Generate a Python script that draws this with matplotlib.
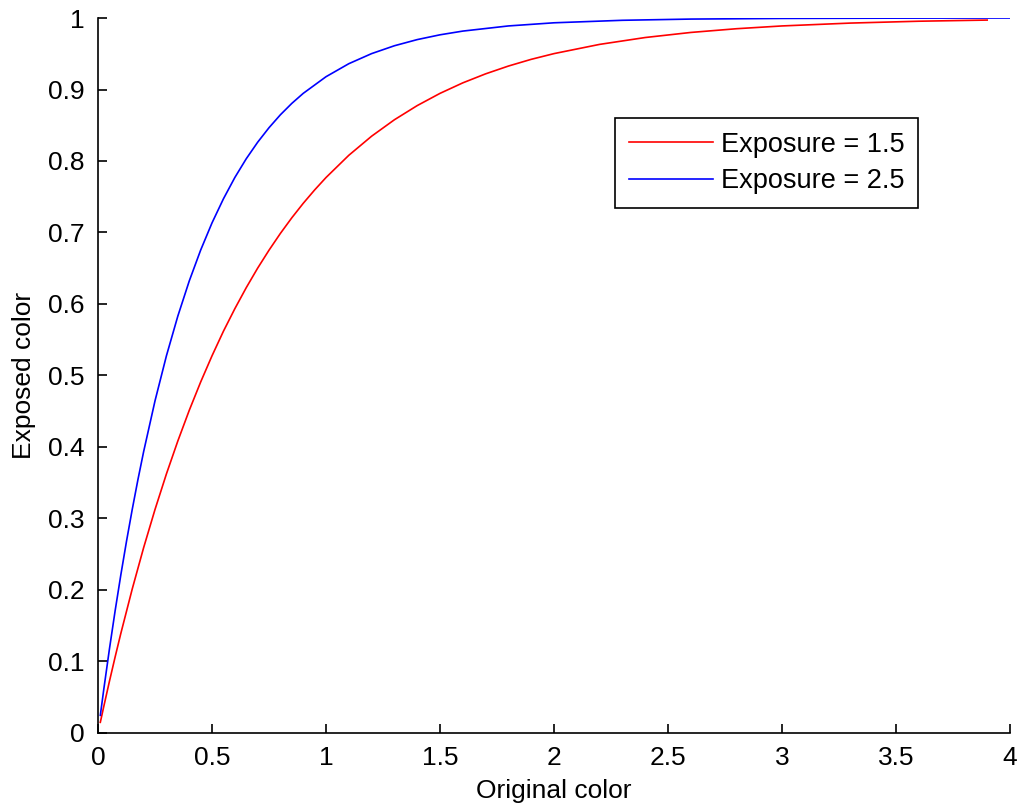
import matplotlib
matplotlib.use('Agg')
import matplotlib.pyplot as plt
from matplotlib.ticker import FuncFormatter

plt.rcParams['font.family'] = ['Liberation Sans', 'DejaVu Sans']

# values
x_red = [0.01, 0.025, 0.05, 0.075, 0.1, 0.15, 0.2, 0.25, 0.3, 0.35, 0.4, 0.45, 0.5, 0.55,
         0.6, 0.65, 0.7, 0.75, 0.8, 0.85, 0.9, 0.95, 1.0, 1.1, 1.2, 1.3, 1.4, 1.5, 1.6,
         1.7, 1.8, 1.9, 2.0, 2.2, 2.4, 2.6, 2.8, 3.0, 3.3, 3.6, 3.9]
y_red = [0.0149, 0.0368, 0.0723, 0.1064, 0.1393, 0.2014, 0.2592, 0.3127, 0.3624, 0.4084,
         0.4512, 0.4908, 0.5276, 0.5619, 0.5934, 0.6228, 0.6501, 0.6753, 0.6988, 0.7206,
         0.7408, 0.7595, 0.7769, 0.8080, 0.8347, 0.8577, 0.8775, 0.8946, 0.9093, 0.9219,
         0.9328, 0.9422, 0.9502, 0.9631, 0.9727, 0.9798, 0.9850, 0.9889, 0.9929, 0.9955, 0.9971]

x_blue = [0.01, 0.025, 0.05, 0.075, 0.1, 0.125, 0.15, 0.175, 0.2, 0.25, 0.3, 0.35, 0.4,
          0.45, 0.5, 0.55, 0.6, 0.65, 0.7, 0.75, 0.8, 0.85, 0.9, 1.0, 1.1, 1.2, 1.3, 1.4,
          1.5, 1.6, 1.8, 2.0, 2.3, 2.6, 3.0, 3.5, 4.0]
y_blue = [0.0247, 0.0606, 0.1175, 0.1710, 0.2212, 0.2684, 0.3127, 0.3544, 0.3935, 0.4647,
          0.5276, 0.5831, 0.6321, 0.6753, 0.7135, 0.7471, 0.7769, 0.8031, 0.8262, 0.8466,
          0.8647, 0.8806, 0.8946, 0.9179, 0.9361, 0.9502, 0.9612, 0.9698, 0.9765, 0.9817,
          0.9889, 0.9933, 0.9968, 0.9985, 0.9994, 0.9998, 1.0]

labels = ['Exposure = 1.5', 'Exposure = 2.5']
x_ticks = [0, 0.5, 1, 1.5, 2, 2.5, 3, 3.5, 4]
y_ticks = [0, 0.1, 0.2, 0.3, 0.4, 0.5, 0.6, 0.7, 0.8, 0.9, 1]

fig = plt.figure(figsize=(10.17, 8.11), dpi=100)
ax = fig.add_axes([0.0964, 0.0962, 0.8967, 0.8816])

ax.plot(x_red, y_red, color='red', lw=1.2, label=labels[0])
ax.plot(x_blue, y_blue, color='blue', lw=1.2, label=labels[1])

ax.set_xlim(0, 4)
ax.set_ylim(0, 1)
ax.set_xticks(x_ticks)
ax.set_yticks(y_ticks)
fmt = FuncFormatter(lambda v, p: '%g' % v)
ax.xaxis.set_major_formatter(fmt)
ax.yaxis.set_major_formatter(fmt)
ax.tick_params(direction='in', length=6.5, width=1.2, labelsize=19, pad=9.5)
ax.spines['top'].set_visible(False)
ax.spines['right'].set_visible(False)
ax.spines['left'].set_linewidth(1.2)
ax.spines['bottom'].set_linewidth(1.2)

ax.set_xlabel('Original color', fontsize=19, labelpad=6)
ax.set_ylabel('Exposed color', fontsize=19, labelpad=9)

leg = ax.legend(loc='upper right', bbox_to_anchor=(0.899, 0.860), borderaxespad=0,
                fancybox=False, edgecolor='black', framealpha=1, fontsize=19.5,
                handlelength=3.1, handletextpad=0.3, labelspacing=0.4, borderpad=0.5)
leg.get_frame().set_linewidth(1.2)

fig.savefig('out.png', dpi=100)
